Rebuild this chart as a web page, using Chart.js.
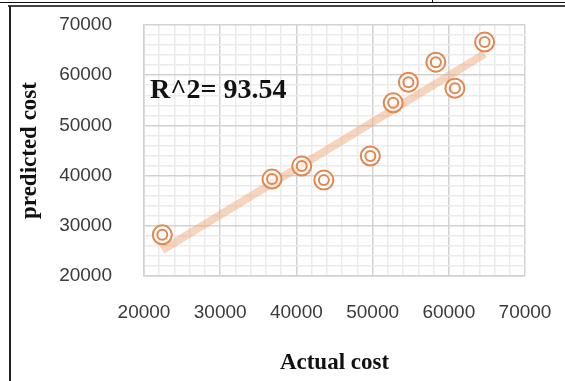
<!DOCTYPE html>
<html>
<head>
<meta charset="utf-8">
<script src="https://cdn.jsdelivr.net/npm/chart.js@4/dist/chart.umd.min.js"></script>
<style>
  html, body { margin: 0; padding: 0; background: #fff; }
  #wrap { position: relative; width: 565px; height: 381px; overflow: hidden; }
  #chart { position: absolute; left: 0; top: 0; }
  .ln { position: absolute; }
</style>
</head>
<body>
<div id="wrap">
  <canvas id="chart" width="565" height="381"></canvas>
  <div class="ln" style="left:0;top:2px;width:565px;height:1px;background:#111;"></div>
  <div class="ln" style="left:432px;top:0;width:1px;height:3px;background:#111;"></div>
  <div class="ln" style="left:8px;top:5px;width:557px;height:2px;background:#444;"></div>
  <div class="ln" style="left:9px;top:6px;width:2px;height:375px;background:#222;"></div>
</div>
<script>
// values
const actualCost = [22400, 36800, 40700, 43600, 49700, 52700, 54700, 58300, 60800, 64700];
const predictedCost = [28200, 39300, 41900, 39100, 43900, 54500, 58600, 62600, 57400, 66600];
const axisTicks = [20000, 30000, 40000, 50000, 60000, 70000];
const rSquaredLabel = 'R^2= 93.54';

// least squares trendline through the points
function trendline(xs, ys) {
    const n = xs.length;
    const mx = xs.reduce((a, b) => a + b, 0) / n;
    const my = ys.reduce((a, b) => a + b, 0) / n;
    let sxy = 0, sxx = 0;
    xs.forEach((x, i) => { sxy += (x - mx) * (ys[i] - my); sxx += (x - mx) * (x - mx); });
    const slope = sxy / sxx;
    const b = my - slope * mx;
    const x0 = Math.min(...xs), x1 = Math.max(...xs);
    return [{ x: x0, y: b + slope * x0 }, { x: x1, y: b + slope * x1 }];
}

const points = actualCost.map((x, i) => ({ x, y: predictedCost[i] }));
const ringColor = '#e3864f';

const gridColor = (ctx) => (ctx.tick && ctx.tick.value % 10000 === 0 ? '#d2d2d2' : '#ebebeb');
const tickLabel = (value) => (axisTicks.includes(value) ? String(value) : '');

const annotate = {
    id: 'rsq',
    afterDatasetsDraw(chart) {
        const { ctx, scales } = chart;
        ctx.save();
        ctx.font = 'bold 28px "Liberation Serif", serif';
        ctx.fillStyle = '#111';
        ctx.textBaseline = 'middle';
        ctx.fillText(rSquaredLabel, scales.x.getPixelForValue(20800), scales.y.getPixelForValue(56800));
        ctx.restore();
    },
};

new Chart(document.getElementById('chart'), {
    type: 'scatter',
    data: {
        datasets: [
            {
                type: 'line',
                data: trendline(actualCost, predictedCost),
                borderColor: 'rgba(238, 170, 125, 0.5)',
                borderWidth: 8,
                pointRadius: 0,
                order: 3,
            },
            {
                data: points,
                pointRadius: 9.5,
                pointBorderWidth: 2,
                pointBorderColor: ringColor,
                pointBackgroundColor: 'rgba(255,255,255,0.6)',
                order: 2,
            },
            {
                data: points,
                pointRadius: 5,
                pointBorderWidth: 2,
                pointBorderColor: ringColor,
                pointBackgroundColor: 'rgba(255,255,255,0)',
                order: 1,
            },
        ],
    },
    options: {
        responsive: false,
        animation: false,
        layout: { padding: { left: 14, top: 25, right: 40, bottom: 4 } },
        plugins: { legend: { display: false }, tooltip: { enabled: false } },
        scales: {
            x: {
                type: 'linear',
                min: 20000,
                max: 70000,
                afterFit: (s) => { s.height = 381 - 276 - 4; },
                ticks: {
                    stepSize: 2000,
                    autoSkip: false,
                    maxRotation: 0,
                    padding: 3,
                    color: '#3a3a3a',
                    font: { family: '"Liberation Sans", sans-serif', size: 19 },
                    callback: tickLabel,
                },
                grid: { color: gridColor, lineWidth: 1.5, drawTicks: true, tickLength: 22, tickColor: 'rgba(0,0,0,0)' },
                border: { color: '#d2d2d2', width: 1.5 },
                title: {
                    display: true,
                    text: 'Actual cost',
                    color: '#111',
                    padding: { top: 4, bottom: 0 },
                    font: { family: '"Liberation Serif", serif', size: 23, weight: 'bold' },
                },
            },
            y: {
                type: 'linear',
                min: 20000,
                max: 70000,
                afterFit: (s) => { s.width = 144 - 14; },
                ticks: {
                    stepSize: 2000,
                    autoSkip: false,
                    padding: 3,
                    color: '#3a3a3a',
                    font: { family: '"Liberation Sans", sans-serif', size: 19 },
                    callback: tickLabel,
                },
                grid: { color: gridColor, lineWidth: 1.5, drawTicks: true, tickLength: 29, tickColor: 'rgba(0,0,0,0)' },
                border: { color: '#d2d2d2', width: 1.5 },
                title: {
                    display: true,
                    text: 'predicted cost',
                    color: '#111',
                    padding: { top: 2, bottom: 4 },
                    font: { family: '"Liberation Serif", serif', size: 23, weight: 'bold' },
                },
            },
        },
    },
    plugins: [annotate],
});
</script>
</body>
</html>
